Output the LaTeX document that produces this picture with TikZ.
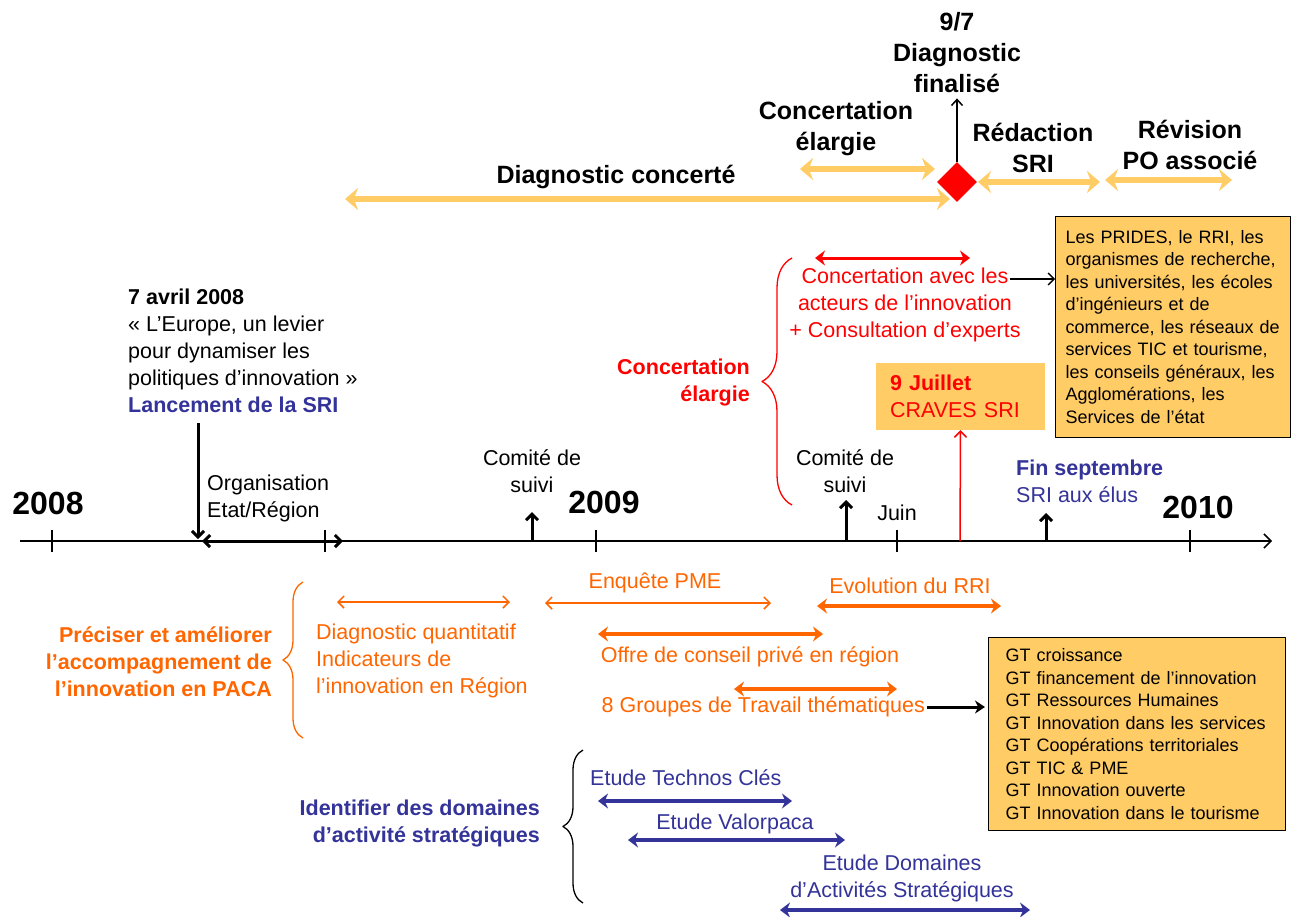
\documentclass[tikz,border=0pt]{standalone}
\usepackage{fontspec}
\setmainfont{Liberation Sans}
\usetikzlibrary{arrows.meta,calc,positioning,shapes.geometric,decorations.pathreplacing}
\definecolor{gold}{RGB}{255,204,102}
\definecolor{orng}{RGB}{255,102,0}
\definecolor{sriblue}{RGB}{51,51,153}
\tikzset{
  big/.style={font=\fontsize{25}{31}\selectfont\bfseries,align=center,inner sep=0pt},
  yr/.style={font=\fontsize{32}{38}\selectfont\bfseries,inner sep=0pt},
  lbl/.style={font=\fontsize{21.5}{27}\selectfont,inner sep=0pt},
  bld/.style={font=\fontsize{21.5}{27}\selectfont\bfseries,inner sep=0pt},
  boxtxt/.style={font=\fontsize{18}{22.5}\selectfont,fill=gold,draw,line width=1pt,align=left,inner ysep=6pt,anchor=north west},
  period/.style={line width=6pt,gold,{Stealth[length=13pt,width=22pt]}-{Stealth[length=13pt,width=22pt]}},
  thk/.style={line width=3.5pt,{Stealth[length=10pt,width=15pt]}-{Stealth[length=10pt,width=15pt]}},
  thn/.style={line width=1.5pt,{Straight Barb[length=6pt,width=12pt]}-{Straight Barb[length=6pt,width=12pt]}},
  evt/.style={line width=3pt,-{Straight Barb[length=6pt,width=12pt]}},
  lbrace/.style={decorate,decoration={brace,amplitude=#1},line width=1.3pt}
}

\begin{document}
\begin{tikzpicture}[x=1pt,y=-1pt,line join=round,font=\fontsize{21.5}{27}\selectfont]
\fill[white] (0,0) rectangle (1296,916);
\useasboundingbox (0,0) rectangle (1296,916);
% --- axe du temps
\draw[line width=1.5pt,-{Straight Barb[length=7pt,width=14pt]}] (20,541) -- (1272,541);
\foreach \x in {52,325,596,897,1190} \draw[line width=1.3pt] (\x,530) -- (\x,552);
\node[yr] (y08) at (48,503) {2008};
\node[yr] (y09) at (604,502) {2009};
\node[yr] (y10) at (1198,507) {2010};
\node[lbl] (juin) at (897,513) {Juin};

% --- phases du haut
\draw[period] (345,199) -- (950,199);
\node[big] (diagc) at (616,177) {Diagnostic concerté};
\draw[period] (800,169) -- (935,169);
\node[big] (conc) at (836,129) {Concertation\\élargie};
\draw[period] (978,182) -- (1100,182);
\node[big] (redac) at (1033,148) {Rédaction\\SRI};
\draw[period] (1105,180) -- (1232,180);
\node[big] (revis) at (1190,145) {Révision\\PO associé};
\node[diamond,fill=red,minimum size=40pt,inner sep=0pt] (jalon) at (957,182) {};
\node[big] (final) at (957,53) {9/7\\Diagnostic\\finalisé};
\draw[line width=1.5pt,-{Straight Barb[length=6pt,width=11pt]},shorten >=5pt] (jalon.north) -- (final.south);

% --- concertation elargie (rouge)
\draw[thk,red,line width=3pt] (815,258) -- (970,258);
\node[lbl,red,align=center] (acteurs) at (905,305) {Concertation avec les\\acteurs de l’innovation\\+ Consultation d’experts};
\draw[lbrace=30,red] (792,505) -- (792,258);
\node[bld,red,align=right,anchor=east] (concel) at (750,382) {Concertation\\élargie};
\node[boxtxt,text width=215pt,inner xsep=10pt,minimum height=221pt] (prides) at (1055,216) {Les PRIDES, le RRI, les\\organismes de recherche,\\les universités, les écoles\\d’ingénieurs et de\\commerce, les réseaux de\\services TIC et tourisme,\\les conseils généraux, les\\Agglomérations, les\\Services de l’état};
\coordinate (cA) at (1010,279);
\draw[line width=1.3pt,-{Straight Barb[length=6pt,width=12pt]}] (cA) -- (cA -| prides.west);
\node[lbl,red,fill=gold,align=left,text width=141pt,inner xsep=14pt,minimum height=67pt] (craves) at (960.5,396.5) {\textbf{9 Juillet}\\CRAVES SRI};
\coordinate (jul) at (960,541);
\draw[red,line width=1.5pt,-{Straight Barb[length=6pt,width=12pt]}] (jul) -- (craves.south);

% --- lancement et jalons sur l'axe
\node[lbl,align=left,anchor=west] (avril) at (128,351) {\textbf{7 avril 2008}\\« L’Europe, un levier\\pour dynamiser les\\politiques d’innovation »\\\textcolor{sriblue}{\textbf{Lancement de la SRI}}};
\coordinate (lanc) at (198,539);
\draw[evt] (198,423) -- (lanc);
\node[lbl,align=left,anchor=west] (orga) at (207,498) {Organisation\\Etat/Région};
\draw[line width=3pt,{Straight Barb[length=6pt,width=12pt]}-{Straight Barb[length=6pt,width=12pt]}] (202,541) -- (343,541);
\node[lbl,align=center] (cs1) at (532,471) {Comité de\\suivi};
\draw[evt] (532,541) -- (532,512);
\node[lbl,align=center] (cs2) at (845,471) {Comité de\\suivi};
\draw[evt] (846,541) -- (846,500);
\node[lbl,sriblue,align=left,anchor=west] (finsep) at (1016,481) {\textbf{Fin septembre}\\SRI aux élus};
\draw[evt] (1046,541) -- (1046,513);

% --- accompagnement (orange)
\draw[lbrace=20,orng] (303,738) -- (303,582);
\node[bld,orng,align=right,anchor=east] (paca) at (272,662) {Préciser et améliorer\\l’accompagnement de\\l’innovation en PACA};
\draw[thn,orng] (337,602) -- (510,602);
\node[lbl,orng,align=left,anchor=west] (dquant) at (316,661) {Diagnostic quantitatif\\Indicateurs de\\l’innovation en Région};
\draw[thn,orng] (545,603) -- (771,603);
\node[lbl,orng] (pme) at (655,583) {Enquête PME};
\draw[thk,orng] (817,606) -- (1001,606);
\node[lbl,orng] (rri) at (910,586) {Evolution du RRI};
\draw[thk,orng] (598,634) -- (823,634);
\node[lbl,orng] (offre) at (750,657) {Offre de conseil privé en région};
\draw[thk,orng] (734,689) -- (897,689);
\node[lbl,orng,anchor=east] (gt8) at (925,707) {8 Groupes de Travail thématiques};
\node[boxtxt,text width=263pt,inner xsep=17pt,minimum height=193pt] (gt) at (988,637) {GT croissance\\GT financement de l’innovation\\GT Ressources Humaines\\GT Innovation dans les services\\GT Coopérations territoriales\\GT TIC \& PME\\GT Innovation ouverte\\GT Innovation dans le tourisme};
\draw[line width=3pt,-{Stealth[length=10pt,width=13pt]},shorten <=2pt,shorten >=3pt] (gt8.east) -- (gt8.east -| gt.west);

% --- domaines strategiques (bleu)
\draw[lbrace=20] (583,903) -- (583,750);
\node[bld,sriblue,align=right,anchor=east] (das) at (540,823) {Identifier des domaines\\d’activité stratégiques};
\node[lbl,sriblue,anchor=west] (techno) at (590,778) {Etude Technos Clés};
\draw[thk,sriblue] (598,801) -- (792,801);
\node[lbl,sriblue] (valor) at (735,824) {Etude Valorpaca};
\draw[thk,sriblue] (628,840) -- (845,840);
\node[lbl,sriblue,align=center] (domaines) at (902,878) {Etude Domaines\\d’Activités Stratégiques};
\draw[thk,sriblue] (780,910) -- (1030,910);
\end{tikzpicture}
\end{document}
